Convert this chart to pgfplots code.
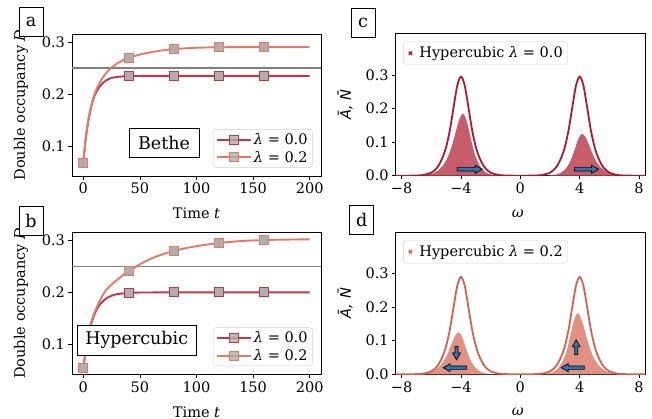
\documentclass[border=0pt]{standalone}
\usepackage{fontspec}
\setmainfont{DejaVu Serif}
\newfontfamily\dvsans{DejaVu Sans}
\usepackage{pgfplots}
\pgfplotsset{compat=1.18}

\definecolor{redline}{RGB}{190,55,75}
\definecolor{orline}{RGB}{228,122,102}
\definecolor{mkgray}{RGB}{178,172,172}
\definecolor{cline}{RGB}{178,24,43}
\definecolor{cfill}{RGB}{199,93,107}
\definecolor{dline}{RGB}{214,96,77}
\definecolor{dfill}{RGB}{226,144,130}
\definecolor{arrblue}{RGB}{40,120,180}
\definecolor{hgray}{RGB}{128,128,128}

\newcommand{\tk}{\fontsize{14.5}{17}\selectfont}
\newcommand{\bx}{\fontsize{17.5}{20}\selectfont}

% blue annotation arrow: coordinate, angle, length, half shaft width
\newcommand{\blarrow}[4]{%
  \draw[fill=arrblue, draw=black, line width=0.7pt, line join=miter, shift={(#1)}, rotate=#2]
    (0pt,-#4) -- (#3-7pt,-#4) -- (#3-7pt,-4pt) -- (#3,0pt) -- (#3-7pt,4pt) -- (#3-7pt,#4) -- (0pt,#4) -- cycle;}

\pgfplotsset{
  base/.style={
    scale only axis, anchor=south west,
    axis line style={line width=0.8pt},
    tick align=outside, xtick pos=bottom, ytick pos=left,
    major tick length=3.5pt,
    tick style={black, line width=0.8pt},
    ticklabel style={font=\tk},
    label style={font=\tk},
    /pgf/number format/assume math mode=true,
  },
  occ/.style={base,
    width=249pt, height=142pt,
    xmin=-10, xmax=210, ymin=0.0425, ymax=0.3155,
    xtick={0,50,100,150,200},
    ytick={0.1,0.2,0.3}, yticklabels={0.1,0.2,0.3},
    xlabel={Time \textit{t}}, ylabel={Double occupancy \textit{D}},
    xlabel style={at={(axis description cs:0.5,-0.265)}, anchor=center},
    ylabel style={at={(axis description cs:-0.205,0.5)}, anchor=center},
    legend style={at={(rel axis cs:0.967,0.058)}, anchor=south east,
      draw=black!18, rounded corners=3pt, fill=white, fill opacity=0.8,
      text opacity=1, font=\tk, inner xsep=3pt, inner ysep=2pt, row sep=1pt,
      cells={anchor=west}},
    legend image code/.code={\draw[mark repeat=2,mark phase=2]
      plot coordinates {(0pt,0pt) (17pt,0pt) (34pt,0pt)};},
  },
  spec/.style={base,
    width=249.3pt, height=142.4pt,
    xmin=-8.4, xmax=8.4, ymin=0, ymax=0.424,
    xtick={-8,-4,0,4,8}, xticklabels={−8,−4,0,4,8},
    ytick={0,0.1,0.2,0.3}, yticklabels={0.0,0.1,0.2,0.3},
    xlabel={\textit{ω}}, ylabel={{\dvsans\itshape Ā, N̄}},
    xlabel style={at={(axis description cs:0.49,-0.265)}, anchor=center},
    ylabel style={at={(axis description cs:-0.203,0.5)}, anchor=center},
    legend style={at={(rel axis cs:0.030,0.941)}, anchor=north west,
      draw=black!18, rounded corners=3pt, fill=white, fill opacity=0.8,
      text opacity=1, font=\tk, inner xsep=3pt, inner ysep=3pt},
    legend image code/.code={\path[draw=none, fill=none] (0pt,-2pt) rectangle (11pt,2pt);
      \fill (2.9pt,-1.1pt) rectangle (5.1pt,1.1pt);},
  },
  mk0/.style={mark=square*, mark size=4.5pt, mark options={fill=mkgray, draw=redline, line width=1pt}},
  mk2/.style={mark=square*, mark size=4.5pt, mark options={fill=mkgray, draw=orline, line width=1pt}},
}

\begin{document}
\begin{tikzpicture}
\useasboundingbox (0pt,0pt) rectangle (652pt,418pt);

% ---------------- a: Bethe ----------------
\begin{axis}[occ, at={(72pt,242pt)}]
\addplot[hgray, line width=1.5pt, forget plot] coordinates {(-10,0.25) (210,0.25)};
\addplot[redline, line width=1.9pt, smooth, forget plot] coordinates {
  (0,0.068) (2,0.112) (4,0.143) (6,0.166) (8,0.184) (10,0.197) (12,0.206)
  (15,0.216) (20,0.226) (25,0.231) (30,0.233) (40,0.2345) (60,0.235)
  (80,0.235) (120,0.235) (160,0.235) (200,0.235)};
\addplot[orline, line width=1.9pt, smooth, forget plot] coordinates {
  (0,0.068) (2,0.112) (4,0.144) (6,0.168) (8,0.186) (10,0.200) (12,0.211)
  (15,0.224) (20,0.240) (25,0.251) (30,0.259) (35,0.265) (40,0.2695)
  (50,0.276) (60,0.2805) (70,0.284) (80,0.2865) (100,0.289) (120,0.290)
  (160,0.2905) (200,0.2905)};
\addplot[only marks, mk0, forget plot] coordinates {
  (0,0.068) (40,0.2345) (80,0.235) (120,0.235) (160,0.235)};
\addplot[only marks, mk2, forget plot] coordinates {
  (0,0.068) (40,0.2695) (80,0.2865) (120,0.290) (160,0.2905)};
\addlegendimage{redline, line width=1.9pt, mk0}
\addlegendentry{{\itshape λ} = 0.0}
\addlegendimage{orline, line width=1.9pt, mk2}
\addlegendentry{{\itshape λ} = 0.2}
\end{axis}

% ---------------- b: Hypercubic ----------------
\begin{axis}[occ, at={(72pt,43.7pt)}]
\addplot[hgray, line width=1.5pt, forget plot] coordinates {(-10,0.25) (210,0.25)};
\addplot[redline, line width=1.9pt, smooth, forget plot] coordinates {
  (0,0.055) (2,0.087) (4,0.112) (6,0.1315) (8,0.1466) (10,0.1584) (12,0.1677)
  (15,0.1778) (20,0.188) (25,0.1936) (30,0.1966) (40,0.199) (50,0.1997)
  (80,0.2) (120,0.2) (160,0.2) (200,0.2)};
\addplot[orline, line width=1.9pt, smooth, forget plot] coordinates {
  (0,0.055) (2,0.087) (4,0.113) (6,0.134) (8,0.150) (10,0.162) (15,0.186)
  (20,0.204) (25,0.215) (30,0.2245) (35,0.233) (40,0.2404) (50,0.254)
  (60,0.265) (70,0.2733) (80,0.2797) (90,0.2848) (100,0.2888) (110,0.2922)
  (120,0.295) (140,0.2988) (160,0.3006) (180,0.3015) (200,0.302)};
\addplot[only marks, mk0, forget plot] coordinates {
  (0,0.055) (40,0.199) (80,0.2) (120,0.2) (160,0.2)};
\addplot[only marks, mk2, forget plot] coordinates {
  (0,0.055) (40,0.2404) (80,0.2797) (120,0.295) (160,0.3006)};
\addlegendimage{redline, line width=1.9pt, mk0}
\addlegendentry{{\itshape λ} = 0.0}
\addlegendimage{orline, line width=1.9pt, mk2}
\addlegendentry{{\itshape λ} = 0.2}
\end{axis}

% ---------------- c: spectra lambda = 0.0 ----------------
\begin{axis}[spec, at={(395.7pt,242.3pt)}]
\addplot[fill=cfill, draw=none, smooth, forget plot] coordinates {
  (-8.4,0) (-7.35,0.0002) (-6.85,0.0007) (-6.35,0.0024) (-5.85,0.0076)
  (-5.6,0.0137) (-5.35,0.0233) (-5.1,0.0381) (-4.85,0.0598) (-4.6,0.0912)
  (-4.35,0.1315) (-4.1,0.1691) (-3.85,0.185) (-3.6,0.1611) (-3.35,0.1127)
  (-3.1,0.0685) (-2.85,0.0394) (-2.6,0.0211) (-2.35,0.0104) (-2.1,0.0051)
  (-1.85,0.0027) (-1.35,0.0005) (-0.85,0.0001) (0,0)
  (1.15,0.0001) (1.65,0.0003) (2.15,0.0018) (2.4,0.0034) (2.65,0.0070)
  (2.9,0.0143) (3.15,0.0266) (3.4,0.0463) (3.65,0.0761) (3.9,0.1089)
  (4.15,0.125) (4.4,0.1143) (4.65,0.0889) (4.9,0.0616) (5.15,0.0404)
  (5.4,0.0258) (5.65,0.0158) (5.9,0.0093) (6.15,0.0051) (6.65,0.0016)
  (7.15,0.0005) (7.65,0.0001) (8.4,0)} \closedcycle;
\addplot[cline, line width=1.8pt, smooth, forget plot] coordinates {
  (-8.4,0) (-8,0) (-7.5,0.00015) (-7,0.0006) (-6.5,0.0024) (-6,0.0089)
  (-5.75,0.0171) (-5.5,0.031) (-5.25,0.0531) (-5,0.0856) (-4.75,0.1357)
  (-4.5,0.2036) (-4.25,0.2685) (-4,0.295) (-3.75,0.2685) (-3.5,0.2036)
  (-3.25,0.1357) (-3,0.0856) (-2.75,0.0531) (-2.5,0.031) (-2.25,0.0171)
  (-2,0.0089) (-1.5,0.0024) (-1,0.0006) (-0.5,0.00015) (0,0.0001)
  (0.5,0.00015) (1,0.0006) (1.5,0.0024) (2,0.0089) (2.25,0.0171)
  (2.5,0.031) (2.75,0.0531) (3,0.0856) (3.25,0.1357) (3.5,0.2036)
  (3.75,0.2685) (4,0.295) (4.25,0.2685) (4.5,0.2036) (4.75,0.1357)
  (5,0.0856) (5.25,0.0531) (5.5,0.031) (5.75,0.0171) (6,0.0089)
  (6.5,0.0024) (7,0.0006) (7.5,0.00015) (8,0) (8.4,0)};
\addlegendimage{cline}
\addlegendentry{Hypercubic {\itshape λ} = 0.0}
\coordinate (c1) at (axis cs:-4.25,0.019);
\coordinate (c2) at (axis cs:3.65,0.019);
\end{axis}

% ---------------- d: spectra lambda = 0.2 ----------------
\begin{axis}[spec, at={(395.7pt,43.7pt)}]
\addplot[fill=dfill, draw=none, smooth, forget plot] coordinates {
  (-8.4,0) (-7.65,0.0001) (-7.15,0.0005) (-6.65,0.0016) (-6.15,0.0051)
  (-5.9,0.0093) (-5.65,0.0158) (-5.4,0.0258) (-5.15,0.0404) (-4.9,0.0616)
  (-4.65,0.0889) (-4.4,0.1143) (-4.15,0.125) (-3.9,0.1089) (-3.65,0.0761)
  (-3.4,0.0463) (-3.15,0.0266) (-2.9,0.0143) (-2.65,0.0070) (-2.4,0.0034)
  (-2.15,0.0018) (-1.65,0.0003) (-1.15,0.0001) (0,0)
  (0.85,0.0001) (1.35,0.0005) (1.85,0.0026) (2.1,0.0050) (2.35,0.0102)
  (2.6,0.0207) (2.85,0.0388) (3.1,0.0673) (3.35,0.1108) (3.6,0.1585)
  (3.85,0.182) (4.1,0.1663) (4.35,0.1294) (4.6,0.0897) (4.85,0.0588)
  (5.1,0.0375) (5.35,0.0229) (5.6,0.0135) (5.85,0.0075) (6.35,0.0024)
  (6.85,0.0007) (7.35,0.0002) (8.4,0)} \closedcycle;
\addplot[dline, line width=1.8pt, smooth, forget plot] coordinates {
  (-8.4,0) (-8,0) (-7.5,0.00015) (-7,0.0006) (-6.5,0.0023) (-6,0.0087)
  (-5.75,0.0168) (-5.5,0.0305) (-5.25,0.0522) (-5,0.0841) (-4.75,0.1334)
  (-4.5,0.2001) (-4.25,0.2639) (-4,0.29) (-3.75,0.2639) (-3.5,0.2001)
  (-3.25,0.1334) (-3,0.0841) (-2.75,0.0522) (-2.5,0.0305) (-2.25,0.0168)
  (-2,0.0087) (-1.5,0.0023) (-1,0.0006) (-0.5,0.00015) (0,0.0001)
  (0.5,0.00015) (1,0.0006) (1.5,0.0023) (2,0.0087) (2.25,0.0168)
  (2.5,0.0305) (2.75,0.0522) (3,0.0841) (3.25,0.1334) (3.5,0.2001)
  (3.75,0.2639) (4,0.29) (4.25,0.2639) (4.5,0.2001) (4.75,0.1334)
  (5,0.0841) (5.25,0.0522) (5.5,0.0305) (5.75,0.0168) (6,0.0087)
  (6.5,0.0023) (7,0.0006) (7.5,0.00015) (8,0) (8.4,0)};
\addlegendimage{dline}
\addlegendentry{Hypercubic {\itshape λ} = 0.2}
\coordinate (d1) at (axis cs:-3.62,0.0197);
\coordinate (d2) at (axis cs:-4.30,0.083);
\coordinate (d3) at (axis cs:4.30,0.0197);
\coordinate (d4) at (axis cs:3.76,0.058);
\end{axis}

% arrows
\blarrow{c1}{0}{25pt}{1.7pt}
\blarrow{c2}{0}{24pt}{1.7pt}
\blarrow{d1}{180}{23.5pt}{1.7pt}
\blarrow{d2}{-90}{13.5pt}{1.5pt}
\blarrow{d3}{180}{23pt}{1.7pt}
\blarrow{d4}{90}{15pt}{1.5pt}

% text boxes
\node[draw, fill=white, line width=0.8pt, inner xsep=9pt, minimum height=29pt, font=\bx] at (164pt,275.5pt) {Bethe};
\node[draw, fill=white, line width=0.8pt, inner xsep=8pt, minimum height=30pt, font=\bx] at (136.7pt,78pt) {Hypercubic};

% panel letters
\foreach \p/\x/\y in {a/31/396.5, b/31/197.2, c/363/395.3, d/361.7/197.7}
  \node[draw, fill=white, line width=0.8pt, minimum width=24pt, minimum height=29pt, inner sep=0pt, font=\bx] at (\x pt,\y pt) {\p};
\end{tikzpicture}
\end{document}
